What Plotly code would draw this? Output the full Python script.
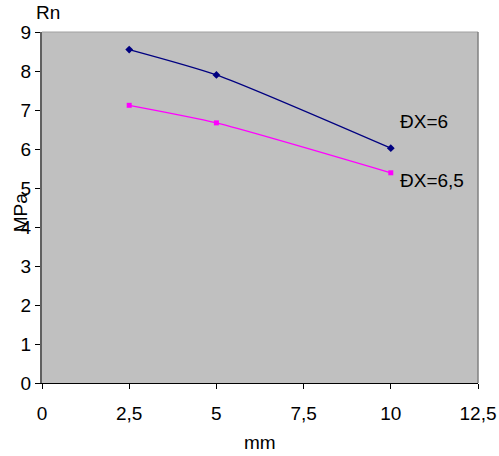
import plotly.graph_objects as go

x_vals = [2.5, 5, 10]
dx6 = [8.55, 7.9, 6.02]
dx65 = [7.12, 6.67, 5.39]
series_names = ["ĐX=6", "ĐX=6,5"]
x_ticks = [0, 2.5, 5, 7.5, 10, 12.5]
x_tick_text = ["0", "2,5", "5", "7,5", "10", "12,5"]
y_ticks = list(range(0, 10))

FONT = "Liberation Sans, Arial"

fig = go.Figure()
fig.add_trace(go.Scatter(x=x_vals, y=dx6, mode="lines+markers", name=series_names[0],
                         line=dict(color="#000080", width=1.3, shape="spline", smoothing=0.6),
                         marker=dict(symbol="diamond", size=6, color="#000080")))
fig.add_trace(go.Scatter(x=x_vals, y=dx65, mode="lines+markers", name=series_names[1],
                         line=dict(color="#FF00FF", width=1.3, shape="spline", smoothing=0.6),
                         marker=dict(symbol="square", size=5, color="#FF00FF")))

fig.add_annotation(x=10, y=dx6[-1], text=series_names[0], showarrow=False,
                   xanchor="left", yanchor="middle", xshift=7, yshift=27,
                   font=dict(family=FONT, size=19, color="black"))
fig.add_annotation(x=10, y=dx65[-1], text=series_names[1], showarrow=False,
                   xanchor="left", yanchor="middle", xshift=7, yshift=-8,
                   font=dict(family=FONT, size=19, color="black"))

fig.add_annotation(xref="paper", yref="paper", x=0.014, y=1.0, text="Rn", showarrow=False,
                   xanchor="center", yanchor="bottom", yshift=7,
                   font=dict(family=FONT, size=19, color="black"))
fig.add_annotation(xref="paper", yref="paper", x=-0.05, y=0.487, text="MPa", showarrow=False,
                   xanchor="center", yanchor="middle", textangle=-90,
                   font=dict(family=FONT, size=19, color="black"))
fig.add_annotation(xref="paper", yref="paper", x=0.5, y=0, text="mm", showarrow=False,
                   xanchor="center", yanchor="middle", yshift=-59,
                   font=dict(family=FONT, size=19, color="black"))

fig.update_layout(
    width=499, height=456,
    margin=dict(l=42, r=21, t=32, b=73, autoexpand=False),
    paper_bgcolor="white", plot_bgcolor="#C0C0C0",
    showlegend=False,
    font=dict(family=FONT, size=19, color="black"),
    xaxis=dict(range=[0, 12.5], tickvals=x_ticks, ticktext=x_tick_text,
               showgrid=False, zeroline=False, ticks="outside", ticklen=5,
               tickcolor="black", showline=True, linecolor="black", linewidth=1,
               automargin=False, ticklabelstandoff=8,
               tickfont=dict(family=FONT, size=19)),
    yaxis=dict(range=[0, 9], tickvals=y_ticks, showgrid=False, zeroline=False,
               ticks="outside", ticklen=5, tickcolor="black", showline=True,
               linecolor="#606060", linewidth=2, automargin=False,
               tickfont=dict(family=FONT, size=19)),
    shapes=[
        dict(type="line", xref="paper", yref="paper", x0=0, x1=1, y0=1, y1=1,
             line=dict(color="#A0A0A0", width=1)),
        dict(type="line", xref="paper", yref="paper", x0=1, x1=1, y0=0, y1=1,
             line=dict(color="#808080", width=1.5)),
    ],
)

fig.write_html("out.html")
